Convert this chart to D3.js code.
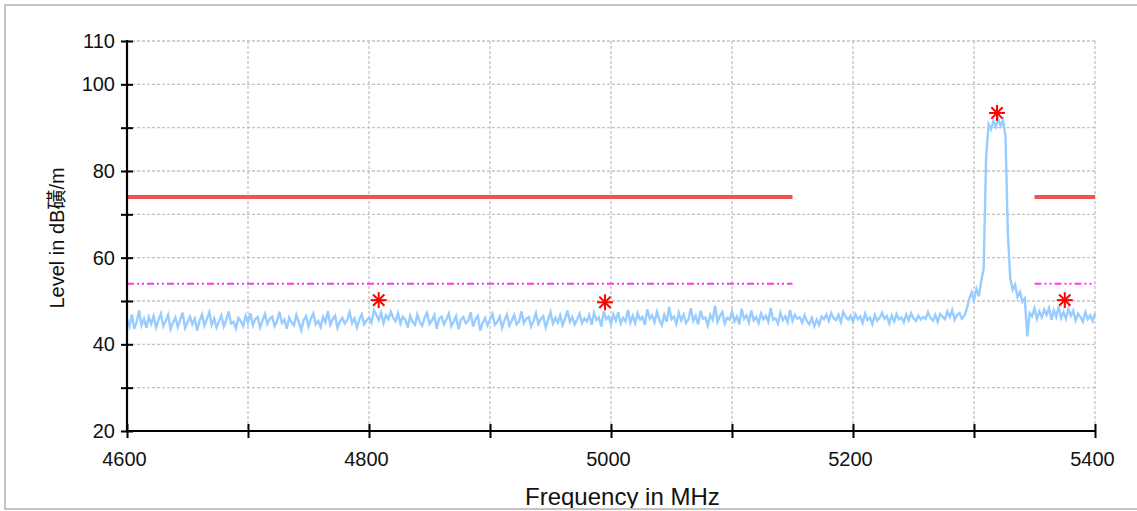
<!DOCTYPE html>
<html>
<head>
<meta charset="utf-8">
<script src="https://cdn.jsdelivr.net/npm/d3@7"></script>
<style>
  html, body { margin: 0; padding: 0; background: #fff; }
  svg { display: block; }
</style>
</head>
<body>
<svg id="chart" width="1137" height="511"></svg>
<script>
// ---------- data ----------
const yTicks = [20, 30, 40, 50, 60, 70, 80, 90, 100, 110];
const yTickLabels = [20, 40, 60, 80, 100, 110];
const xTicks = [4600, 4700, 4800, 4900, 5000, 5100, 5200, 5300, 5400];
const xTickLabels = [4600, 4800, 5000, 5200, 5400];

// limit lines: [startMHz, endMHz, level]
const limitAvg = [[4600, 5150, 74], [5350, 5400, 74]];
const limitPk  = [[4600, 5150, 54], [5350, 5400, 54]];

// marker points
const markerFreq  = [4808, 4995, 5319, 5375];
const markerLevel = [50.2, 49.7, 93.4, 50.2];

// measured trace, one value every 2 MHz starting at 4600 MHz
const traceStart = 4600;
const traceStep = 2;
const traceLevel = [
  45.8,44.1,46.9,43.6,45.2,47.8,44.4,45.9,43.8,46.3,
  44.7,46.5,43.9,45.6,47.1,44.2,45.4,46.8,43.5,45.0,
  46.2,44.0,45.7,47.3,43.8,45.1,46.4,44.6,45.9,43.2,
  45.5,46.9,44.3,45.8,47.4,44.5,46.0,43.9,45.3,46.7,
  44.1,45.6,47.6,44.8,45.2,43.7,46.1,45.4,44.2,46.6,
  45.0,47.2,44.4,45.8,46.3,43.9,45.5,47.0,44.7,45.9,
  46.4,44.2,45.3,47.5,44.9,45.7,43.6,46.2,45.1,44.4,
  46.8,45.2,43.3,45.6,46.5,44.1,45.9,47.1,44.6,45.4,
  44.0,46.3,45.1,47.7,44.5,45.8,46.6,43.8,45.3,46.1,
  44.8,45.6,47.4,44.9,46.0,43.9,45.7,46.9,44.6,45.5,
  46.2,45.0,47.9,46.8,45.6,47.3,44.9,46.7,45.8,47.5,
  46.1,45.3,47.2,44.8,46.4,45.7,43.9,46.6,45.2,44.5,
  46.9,45.1,44.3,46.2,47.3,44.7,45.5,46.8,43.6,45.9,
  46.4,44.6,45.8,47.1,44.2,45.3,46.5,43.5,45.7,46.3,
  44.9,45.4,47.4,44.1,45.8,46.6,43.2,45.0,46.1,44.4,
  45.7,47.0,44.5,45.2,46.4,43.8,45.6,46.9,44.3,45.5,
  46.8,44.6,45.3,47.6,44.9,45.9,46.3,44.1,45.4,47.2,
  44.7,45.8,46.5,43.9,45.6,47.4,44.8,46.1,45.0,46.7,
  44.4,45.9,47.8,45.2,46.3,44.6,45.7,47.1,44.9,46.0,
  45.3,46.8,44.5,47.3,45.6,46.2,44.1,47.6,45.8,46.4,
  44.7,46.9,45.5,47.4,44.8,46.1,45.3,47.9,45.0,46.6,
  44.9,47.2,45.7,46.3,44.5,48.1,45.9,46.7,45.1,47.5,
  45.6,44.4,46.8,45.2,48.6,45.8,46.4,44.7,47.3,45.5,
  46.9,44.9,45.7,48.3,45.4,46.6,44.6,47.7,45.9,46.2,
  44.3,46.8,45.6,48.9,45.2,46.5,47.4,44.8,46.1,45.7,
  47.6,45.3,46.4,44.6,48.2,45.9,46.7,45.1,47.8,45.5,
  46.3,44.9,47.1,45.8,46.6,45.2,48.4,45.7,46.0,44.8,
  47.3,45.6,46.5,45.1,47.9,45.4,46.8,45.9,46.2,45.0,
  46.7,45.3,44.6,46.1,44.2,45.7,44.5,46.4,45.8,46.9,
  45.4,47.2,46.0,45.6,46.8,45.1,47.5,46.3,45.7,46.6,
  45.2,46.9,45.8,46.4,44.9,47.1,45.6,46.2,44.7,46.8,
  45.5,46.1,47.3,45.9,46.5,44.8,46.7,45.3,47.0,45.8,
  46.2,45.1,46.9,45.6,47.2,46.0,45.4,46.6,45.7,46.3,
  45.9,47.4,46.1,45.5,46.8,45.2,47.0,46.4,45.8,47.6,
  46.3,47.9,45.7,46.8,47.2,45.9,46.6,48.1,50.4,52.0,
  50.2,52.8,51.1,54.6,57.5,83.0,90.8,89.6,91.5,90.2,
  92.0,90.4,91.7,88.2,65.4,55.2,52.6,53.8,50.9,52.1,
  49.8,50.6,41.8,47.2,46.5,48.3,45.9,47.6,46.2,48.0,
  46.8,48.4,45.7,47.9,46.4,48.7,46.1,47.5,45.9,48.2,
  46.6,47.8,45.5,47.1,46.3,45.2,47.4,45.8,46.7,45.4,
  47.1
];

// ---------- drawing ----------
const svg = d3.select("#chart");
const W = 1137, H = 511;
const pLeft = 127, pRight = 1095, pTop = 41, pBottom = 431;

svg.append("rect").attr("x", 0).attr("y", 0).attr("width", W).attr("height", H).attr("fill", "#fff");

const x = d3.scaleLinear().domain([4600, 5400]).range([pLeft, pRight]);
const y = d3.scaleLinear().domain([20, 110]).range([pBottom, pTop]);

// grid
const grid = svg.append("g").attr("stroke", "#c2c2c2").attr("stroke-width", 1.3)
  .attr("stroke-dasharray", "3,2").attr("fill", "none");
grid.selectAll("line.h").data(yTicks.filter(v => v > 20)).join("line")
  .attr("x1", pLeft).attr("x2", pRight).attr("y1", d => y(d)).attr("y2", d => y(d));
grid.selectAll("line.v").data(xTicks.filter(v => v > 4600)).join("line")
  .attr("x1", d => x(d)).attr("x2", d => x(d)).attr("y1", pTop).attr("y2", pBottom);

// limit lines
const limG = svg.append("g");
limG.selectAll("line.avg").data(limitAvg).join("line")
  .attr("x1", d => x(d[0])).attr("x2", d => x(d[1]))
  .attr("y1", d => y(d[2])).attr("y2", d => y(d[2]))
  .attr("stroke", "#f25252").attr("stroke-width", 4);
limG.selectAll("line.pk").data(limitPk).join("line")
  .attr("x1", d => x(d[0])).attr("x2", d => x(d[1]))
  .attr("y1", d => y(d[2])).attr("y2", d => y(d[2]))
  .attr("stroke", "#ff33ff").attr("stroke-width", 2)
  .attr("stroke-dasharray", "7,3,2,3,2,3");

// trace
const traceData = traceLevel.map((v, i) => [traceStart + i * traceStep, v]);
svg.append("path").datum(traceData)
  .attr("d", d3.line().x(d => x(d[0])).y(d => y(d[1])))
  .attr("fill", "none").attr("stroke", "#99ccff").attr("stroke-width", 2.4)
  .attr("stroke-linejoin", "miter");

// axes
const fontTick = "'Liberation Sans', Arial, sans-serif";
const yAxis = d3.axisLeft(y).tickValues(yTicks).tickSize(6).tickPadding(10)
  .tickFormat(d => yTickLabels.includes(d) ? d : "");
const gy = svg.append("g").attr("transform", `translate(${pLeft},0)`).call(yAxis);
gy.select(".domain").remove();
gy.selectAll(".tick line").attr("x1", 6).attr("x2", -6).attr("stroke", "#000").attr("stroke-width", 2);
gy.selectAll(".tick text").attr("font-family", fontTick).attr("font-size", 20).attr("fill", "#111")
  .attr("x", -12);
svg.append("line").attr("x1", pLeft).attr("x2", pLeft).attr("y1", pTop - 1).attr("y2", pBottom + 1)
  .attr("stroke", "#000").attr("stroke-width", 2.2);

const xAxis = d3.axisBottom(x).tickValues(xTicks).tickSize(6).tickPadding(15)
  .tickFormat(d => xTickLabels.includes(d) ? d : "");
const gx = svg.append("g").attr("transform", `translate(0,${pBottom})`).call(xAxis);
gx.select(".domain").remove();
gx.selectAll(".tick line").attr("y1", -7).attr("y2", 7).attr("stroke", "#000").attr("stroke-width", 2);
gx.selectAll(".tick text").attr("font-family", fontTick).attr("font-size", 20).attr("fill", "#111")
  .attr("dx", -3);
svg.append("line").attr("x1", pLeft - 1).attr("x2", pRight + 1).attr("y1", pBottom).attr("y2", pBottom)
  .attr("stroke", "#000").attr("stroke-width", 2.2);

// markers (asterisks)
const markers = svg.append("g").attr("stroke", "#ff0000").attr("stroke-width", 2);
const armAngles = [0, 45, 90, 135];
markerFreq.forEach((f, i) => {
  const cx = x(f), cy = y(markerLevel[i]);
  armAngles.forEach(a => {
    const r = 8, t = a * Math.PI / 180;
    markers.append("line")
      .attr("x1", cx - r * Math.cos(t)).attr("y1", cy - r * Math.sin(t))
      .attr("x2", cx + r * Math.cos(t)).attr("y2", cy + r * Math.sin(t));
  });
});

// axis titles
svg.append("text").attr("x", 525).attr("y", 505)
  .attr("font-family", "'Liberation Sans', Arial, sans-serif").attr("font-size", 24)
  .attr("fill", "#111").text("Frequency in MHz");
svg.append("text").attr("transform", "translate(64,238) rotate(-90)")
  .attr("text-anchor", "middle")
  .attr("font-family", "'Liberation Sans', 'Noto Sans CJK KR', Arial, sans-serif").attr("font-size", 20)
  .attr("fill", "#111").text("Level in dB磺/m");

// outer frame (drawn last, it cuts the x title at the bottom)
svg.append("rect").attr("x", -5).attr("y", 509).attr("width", W + 10).attr("height", 10).attr("fill", "#fff");
svg.append("rect").attr("x", 5).attr("y", 5).attr("width", W + 10).attr("height", 504)
  .attr("fill", "none").attr("stroke", "#c4c4c4").attr("stroke-width", 2);
</script>
</body>
</html>
